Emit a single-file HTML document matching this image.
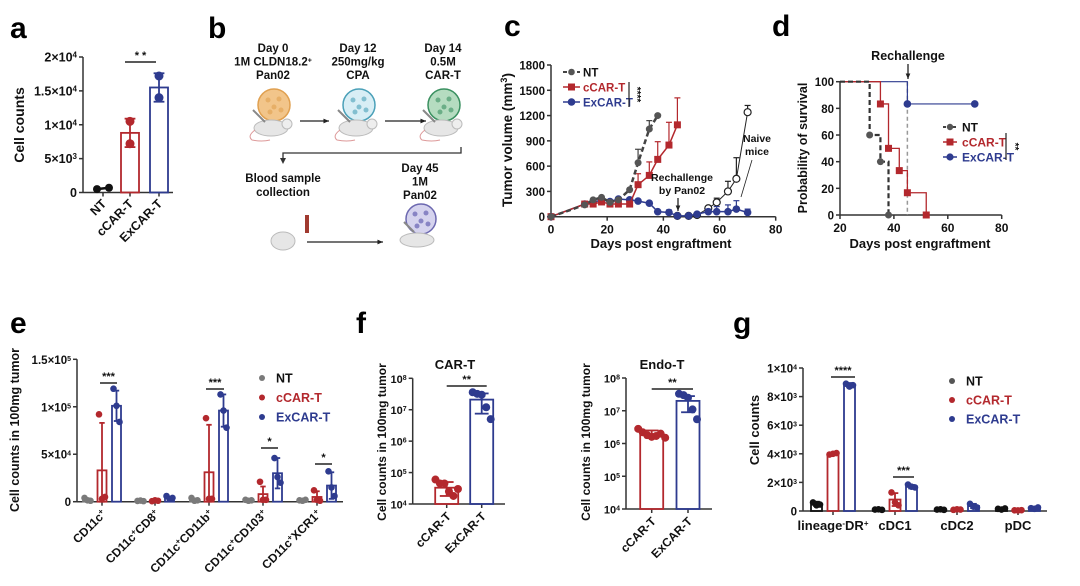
<!DOCTYPE html>
<html><head><meta charset="utf-8">
<style>
html,body{margin:0;padding:0;background:#fff;}
svg{display:block;font-family:"Liberation Sans",Arial,sans-serif;font-weight:bold;}
</style></head>
<body>
<svg id="fig" width="1080" height="586" viewBox="0 0 1080 586" xmlns="http://www.w3.org/2000/svg"></svg>
<script>
// ---------- DATA ----------
// panel a
const aCats=['NT','cCAR-T','ExCAR-T'];
const aMeans=[600,8800,15500];
const aSD=[150,2100,2100];
const aPts=[[500,700],[10500,7200],[17200,14000]];
const aTicks=[0,5000,10000,15000,20000];
const aTickLabels=['0','5×10^3','1×10^4','1.5×10^4','2×10^4'];
// panel c
const cNTdays=[0,12,15,18,21,24,28,31,35,38];
const cNTvals=[0,140,200,230,170,200,320,640,1040,1200];
const cNTerr=[0,20,30,30,30,30,60,800,1140,1210];
const cCdays=[0,12,15,18,21,24,28,31,35,38,42,45];
const cCvals=[0,150,150,175,150,150,150,380,490,680,850,1090];
const cCerr=[0,160,170,200,170,170,170,510,650,890,1120,1410];
const cXdays=[0,12,15,18,21,24,28,31,35,38,42,45,49,52,56,59,63,66,70];
const cXvals=[0,150,170,200,180,210,200,185,160,60,50,10,10,30,60,60,60,90,50];
const cXerr=[0,160,180,210,190,220,210,195,170,70,80,30,30,50,90,120,140,190,90];
const cNVdays=[45,49,52,56,59,63,66,70];
const cNVvals=[10,10,20,100,170,300,450,1240];
const cNVerr=[10,10,30,120,220,420,700,1320];
const cXTicks=[0,20,40,60,80];
const cYTicks=[0,300,600,900,1200,1500,1800];
// panel d
const dNTt=[20,31,35,38]; const dNTs=[100,60,40,0];
const dCt=[20,35,38,42,45,52]; const dCs=[100,83.3,50,33.3,16.7,0];
const dXt=[20,45,70]; const dXs=[100,83.3,83.3];
const dXTicks=[20,40,60,80];
const dYTicks=[0,20,40,60,80,100];
// panel e
const eCats=['CD11c^+','CD11c^+CD8^+','CD11c^+CD11b^+','CD11c^+CD103^+','CD11c^+XCR1^+'];
const eNT=[2000,1000,2000,1500,1500];
const eC=[33000,1000,31000,8000,5000];
const eX=[101000,4000,96000,30000,17000];
const eNTsd=[1500,300,1500,800,600];
const eCsd=[50000,500,50000,8000,6000];
const eXsd=[16000,1500,17000,16000,14000];
const eNTpts=[[4000,1500,1000],[800,1200,600],[4000,1000,1500],[2000,1000,1500],[1500,1000,2000]];
const eCpts=[[92000,3000,5000],[500,1500,1000],[88000,3000,3000],[21000,2000,2000],[12000,2000,1000]];
const eXpts=[[119000,101000,84000],[6000,3000,4000],[113000,96000,78000],[46000,26000,20000],[32000,15000,6000]];
const eTicks=[0,50000,100000,150000];
const eTickLabels=['0','5×10^4','1×10^5','1.5×10^5'];
// panel f
const fCats=['cCAR-T','ExCAR-T'];
const fCarMeans=[3.3e4,2.1e7];
const fCarLo=[1.8e4,7.5e6]; const fCarHi=[5e4,3.3e7];
const fCarPts=[[6e4,4.5e4,4.5e4,2.5e4,1.8e4,3e4],[3.6e7,3.2e7,3e7,1.2e7,5e6]];
const fEndoMeans=[1.9e6,2e7];
const fEndoLo=[1.5e6,9e6]; const fEndoHi=[2.5e6,2.8e7];
const fEndoPts=[[2.8e6,2.2e6,1.8e6,1.6e6,1.7e6,2e6,1.5e6],[3.3e7,3e7,2.5e7,1.1e7,5.5e6]];
const fTicks=[4,5,6,7,8];
// panel g
const gCats=['lineage^-DR^+','cDC1','cDC2','pDC'];
const gNT=[500,100,100,150];
const gC=[4000,800,100,50];
const gX=[8800,1700,350,200];
const gNTsd=[150,40,40,40];
const gCsd=[60,450,40,30];
const gXsd=[150,120,150,60];
const gNTpts=[[600,400,450],[100,120,80],[100,120,80],[150,100,180]];
const gCpts=[[3950,4000,4050],[1300,600,400],[80,120,100],[50,40,60]];
const gXpts=[[8900,8700,8800],[1850,1700,1650],[500,300,250],[200,150,250]];
const gTicks=[0,2000,4000,6000,8000,10000];
const gTickLabels=['0','2×10^3','4×10^3','6×10^3','8×10^3','1×10^4'];

const RED='#b3282d', BLUE='#2e3b8f', GRAY='#7a7a7a', DARK='#333';
// ---------- HELPERS ----------
const NS='http://www.w3.org/2000/svg';
const svg=document.getElementById('fig');
function el(tag,attrs,name,parent){
  const e=document.createElementNS(NS,tag);
  for(const k in attrs) e.setAttribute(k,attrs[k]);
  
  
  (parent||svg).appendChild(e);
  return e;
}
function txt(x,y,s,size,name,opt){
  opt=opt||{};
  const a={x:x,y:y,'font-size':size,'text-anchor':opt.anchor||'middle',fill:opt.fill||'#111'};
  if(opt.transform) a.transform=opt.transform;
  const t=el('text',a,name,opt.parent);
  for(let i=0;i<s.length;i++){
    if(s[i]==='^'&&i+1<s.length){
      const sp=document.createElementNS(NS,'tspan');
      sp.setAttribute('baseline-shift','super');
      sp.setAttribute('font-size',Math.round(size*0.65));
      sp.textContent=s[i+1];
      t.appendChild(sp); i++;
    } else {
      const sp=document.createElementNS(NS,'tspan');
      sp.textContent=s[i];
      t.appendChild(sp);
    }
  }
  return t;
}
function line(x1,y1,x2,y2,stroke,w,name,extra){
  const a={x1:x1,y1:y1,x2:x2,y2:y2,stroke:stroke,'stroke-width':w};
  if(extra) for(const k in extra) a[k]=extra[k];
  return el('line',a,name);
}
function arrow(x1,y1,x2,y2,name){
  line(x1,y1,x2,y2,'#222',1.3,name);
  const ang=Math.atan2(y2-y1,x2-x1), L=6;
  const p=[[x2,y2],[x2-L*Math.cos(ang-0.4),y2-L*Math.sin(ang-0.4)],[x2-L*Math.cos(ang+0.4),y2-L*Math.sin(ang+0.4)]];
  el('polygon',{points:p.map(q=>q.join(',')).join(' '),fill:'#222'},name+'-head');
}
function yAxis(x,yTop,yBot,ticks,scale,labels,size,name){
  line(x,yTop,x,yBot,'#333',1.5,name+'-line');
  ticks.forEach((v,i)=>{
    const y=scale(v);
    line(x-4,y,x,y,'#333',1.5,name+'-tick');
    txt(x-6,y+4.5,labels[i],size,name+'-label',{anchor:'end'});
  });
}
function barGroup(cx,mean,lo,hi,pts,color,bw,r,ys,name,jit){
  const y0=ys.base, ym=ys(mean);
  el('rect',{x:cx-bw/2,y:Math.min(ym,y0),width:bw,height:Math.abs(y0-ym),fill:'none',stroke:color,'stroke-width':1.8},name+'-bar');
  const yl=ys(lo), yh=ys(hi);
  line(cx,yh,cx,yl,color,1.8,name+'-errorbar');
  line(cx-bw*0.3,yh,cx+bw*0.3,yh,color,1.8,name+'-errorcap');
  line(cx-bw*0.3,yl,cx+bw*0.3,yl,color,1.8,name+'-errorcap');
  pts.forEach((v,i)=>{
    const dx=(i-(pts.length-1)/2)*jit;
    el('circle',{cx:cx+dx,cy:ys(v),r:r,fill:color},name+'-point');
  });
}
function sig(x1,x2,y,stars,name){
  line(x1,y,x2,y,'#222',1.5,name+'-bar');
  txt((x1+x2)/2,y-3,stars,11,name+'-stars');
}
function letter(x,y,s){ txt(x,y,s,30,'panel-label-'+s,{anchor:'start',fill:'#000'}); }

// ---------- PANEL a ----------
letter(10,38,'a');
(function(){
  const X0=83, Y0=192.5, Y1=57;
  const ys=v=>Y0-v/20000*(Y0-Y1); ys.base=Y0;
  const xc=[103,130,159];
  yAxis(X0,Y1,Y0,aTicks,ys,aTickLabels,12.5,'a-y-axis');
  line(X0,Y0,173,Y0,'#333',1.5,'a-x-axis');
  const cols=['#111',RED,BLUE];
  aCats.forEach((c,i)=>{
    line(xc[i],Y0,xc[i],Y0+4,'#333',1.5,'a-x-tick');
    txt(xc[i]+4,Y0+12,c,12.5,'a-x-label',{anchor:'end',transform:`rotate(-45 ${xc[i]+4} ${Y0+12})`});
    if(i===0){
      line(xc[i]-6,ys(aPts[0][0]),xc[i]+6,ys(aPts[0][1]),'#111',2.5,'a-nt-line');
      aPts[0].forEach((v,j)=>el('circle',{cx:xc[i]-6+12*j,cy:ys(v),r:4,fill:'#111'},'a-nt-point'));
    } else barGroup(xc[i],aMeans[i],aMeans[i]-aSD[i],aMeans[i]+aSD[i],aPts[i],cols[i],18,4.5,ys,'a-'+c,0.01);
  });
  sig(125,156,62,'* *','a-sig');
  txt(24,125,'Cell counts',14,'a-y-title',{transform:'rotate(-90 24 125)'});
})();

// ---------- PANEL b ----------
letter(208,38,'b');
(function(){
  const step=[[273,['Day 0','1M CLDN18.2^+','Pan02'],'#f2c58a','#e0a050'],[358,['Day 12','250mg/kg','CPA'],'#d8eef5','#4aa0b8'],[443,['Day 14','0.5M','CAR-T'],'#b5dcc0','#3a9060']];
  step.forEach((s,i)=>{
    s[1].forEach((t,j)=>txt(s[0],52+j*13.5,t,11.5,'b-step-text'));
    el('circle',{cx:s[0]+1,cy:105,r:16,fill:s[2],stroke:s[3],'stroke-width':1.5},'b-cell-dish');
    for(let k=0;k<5;k++) el('circle',{cx:s[0]+1+[-6,5,0,-4,7][k],cy:105+[-5,-6,2,7,5][k],r:2.5,fill:s[3],opacity:0.6},'b-cell');
    el('ellipse',{cx:s[0]-2,cy:128,rx:17,ry:8,fill:'#e6e6e6',stroke:'#bbb','stroke-width':1},'b-mouse');
    el('circle',{cx:s[0]+14,cy:124,r:5,fill:'#eee',stroke:'#bbb'},'b-mouse-head');
    el('path',{d:`M${s[0]-18} 130 q-8 6 -3 10 q10 2 18 0`,fill:'none',stroke:'#d99','stroke-width':1},'b-mouse-tail');
    line(s[0]-20,110,s[0]-8,122,'#888',2,'b-syringe');
  });
  arrow(300,121,329,121,'b-arrow-1');
  arrow(385,121,426,121,'b-arrow-2');
  el('polyline',{points:'461,147 461,153 283,153 283,160',fill:'none',stroke:'#333','stroke-width':1.3},'b-connector');
  el('polygon',{points:'283,164 280,158 286,158',fill:'#333'},'b-connector-head');
  txt(283,182,'Blood sample',11.5,'b-blood-text');
  txt(283,196,'collection',11.5,'b-blood-text');
  ['Day 45','1M','Pan02'].forEach((t,j)=>txt(420,172+j*13.5,t,11.5,'b-rechallenge-text'));
  el('circle',{cx:421,cy:219,r:15,fill:'#d5d3ee',stroke:'#6c68b0','stroke-width':1.5},'b-pan02-dish');
  for(let k=0;k<5;k++) el('circle',{cx:421+[-6,5,0,-4,7][k],cy:219+[-5,-6,2,7,5][k],r:2.5,fill:'#8884c4'},'b-pan02-cell');
  el('ellipse',{cx:283,cy:241,rx:12,ry:9,fill:'#e6e6e6',stroke:'#bbb'},'b-mouse-blood');
  el('rect',{x:305,y:215,width:4,height:18,fill:'#a03a30'},'b-blood-tube');
  el('ellipse',{cx:417,cy:240,rx:17,ry:7,fill:'#e6e6e6',stroke:'#bbb'},'b-mouse-4');
  line(404,222,414,232,'#888',2,'b-syringe');
  arrow(307,242,383,242,'b-arrow-3');
})();

// ---------- PANEL c ----------
letter(504,36,'c');
(function(){
  const X0=551, X1=775.7, Y0=216.7, Y1=65;
  const xs=d=>X0+d/80*(X1-X0), ys=v=>Y0-v/1800*(Y0-Y1);
  yAxis(X0,Y1,Y0,cYTicks,ys,cYTicks.map(String),11.5,'c-y-axis');
  line(X0,Y0,X1,Y0,'#333',1.5,'c-x-axis');
  cXTicks.forEach(d=>{line(xs(d),Y0,xs(d),Y0+4,'#333',1.5,'c-x-tick');txt(xs(d),Y0+17,String(d),12,'c-x-label');});
  txt(661,248,'Days post engraftment',13,'c-x-title');
  txt(512,140,'Tumor volume (mm^3)',13.5,'c-y-title',{transform:'rotate(-90 512 140)'});
  function series(days,vals,err,color,dash,w,marker,name){
    days.forEach((d,i)=>{ if(err[i]>vals[i]){line(xs(d),ys(vals[i]),xs(d),ys(err[i]),color,1.2,name+'-err');line(xs(d)-3,ys(err[i]),xs(d)+3,ys(err[i]),color,1.2,name+'-errcap');}});
    const a={points:days.map((d,i)=>xs(d)+','+ys(vals[i])).join(' '),fill:'none',stroke:color,'stroke-width':w};
    if(dash) a['stroke-dasharray']=dash;
    el('polyline',a,name+'-line');
    days.forEach((d,i)=>marker(xs(d),ys(vals[i]),name+'-marker'));
  }
  series(cNVdays,cNVvals,cNVerr,'#222',null,1,(x,y,n)=>el('circle',{cx:x,cy:y,r:3.5,fill:'#fff',stroke:'#222','stroke-width':1.2},n),'c-naive');
  series(cXdays,cXvals,cXerr,BLUE,null,1.5,(x,y,n)=>el('circle',{cx:x,cy:y,r:3.8,fill:BLUE},n),'c-excart');
  series(cCdays,cCvals,cCerr,RED,null,1.5,(x,y,n)=>el('rect',{x:x-3.5,y:y-3.5,width:7,height:7,fill:RED},n),'c-ccart');
  series(cNTdays,cNTvals,cNTerr,'#444','5,3',2.5,(x,y,n)=>el('circle',{cx:x,cy:y,r:3.5,fill:'#555'},n),'c-nt');
  // legend
  line(563,72,580,72,'#444',2,'c-legend-nt-line',{'stroke-dasharray':'4,3'});
  el('circle',{cx:571.5,cy:72,r:3.3,fill:'#555'},'c-legend-nt-marker');
  txt(583,76.5,'NT',11.5,'c-legend-nt',{anchor:'start'});
  line(563,87,580,87,RED,1.5,'c-legend-ccart-line');
  el('rect',{x:568,y:83.5,width:7,height:7,fill:RED},'c-legend-ccart-marker');
  txt(583,91.5,'cCAR-T',11.5,'c-legend-ccart',{anchor:'start',fill:RED});
  line(563,102,580,102,BLUE,1.5,'c-legend-excart-line');
  el('circle',{cx:571.5,cy:102,r:3.8,fill:BLUE},'c-legend-excart-marker');
  txt(583,106.5,'ExCAR-T',11.5,'c-legend-excart',{anchor:'start',fill:BLUE});
  line(629,82,629,107,'#222',1.2,'c-sig-bracket');
  txt(634,94.5,'****',10,'c-sig-stars',{transform:'rotate(90 634 94.5)'});
  txt(682,181,'Rechallenge',10.5,'c-rechallenge-label');
  txt(682,194,'by Pan02',10.5,'c-rechallenge-label');
  arrow(678,198,678,211,'c-rechallenge-arrow');
  txt(757,142,'Naive',10.5,'c-naive-label');
  txt(757,155,'mice',10.5,'c-naive-label');
  line(752,160,741,197,'#222',0.8,'c-naive-pointer');
})();

// ---------- PANEL d ----------
letter(772,36,'d');
(function(){
  const X0=840, X1=1001.7, Y0=215, Y1=81.7;
  const xs=d=>X0+(d-20)/60*(X1-X0), ys=p=>Y0-p/100*(Y0-Y1);
  yAxis(X0,Y1,Y0,dYTicks,ys,dYTicks.map(String),11.5,'d-y-axis');
  line(X0,Y0,X1,Y0,'#333',1.5,'d-x-axis');
  dXTicks.forEach(d=>{line(xs(d),Y0,xs(d),Y0+4,'#333',1.5,'d-x-tick');txt(xs(d),Y0+17,String(d),12,'d-x-label');});
  txt(920,248,'Days post engraftment',13,'d-x-title');
  txt(807,148,'Probability of survival',12.5,'d-y-title',{transform:'rotate(-90 807 148)'});
  line(xs(45),Y1,xs(45),Y0,'#999',1.5,'d-rechallenge-line',{'stroke-dasharray':'4,3'});
  txt(908,60,'Rechallenge',12.5,'d-rechallenge-label');
  arrow(908,64,908,79,'d-rechallenge-arrow');
  function step(t,s,color,w,dash,name){
    let d='M'+xs(t[0])+' '+ys(s[0]);
    for(let i=1;i<t.length;i++) d+=' H'+xs(t[i])+' V'+ys(s[i]);
    const a={d:d,fill:'none',stroke:color,'stroke-width':w};
    if(dash) a['stroke-dasharray']=dash;
    el('path',a,name+'-curve');
  }
  step(dXt,dXs,BLUE,1.2,null,'d-excart');
  step(dCt,dCs,RED,1.3,null,'d-ccart');
  step(dNTt,dNTs,'#333',2.2,'5,3','d-nt');
  for(let i=1;i<dXt.length;i++) el('circle',{cx:xs(dXt[i]),cy:ys(dXs[i]),r:3.8,fill:BLUE},'d-excart-marker');
  for(let i=1;i<dCt.length;i++) el('rect',{x:xs(dCt[i])-3.5,y:ys(dCs[i])-3.5,width:7,height:7,fill:RED},'d-ccart-marker');
  for(let i=1;i<dNTt.length;i++) el('circle',{cx:xs(dNTt[i]),cy:ys(dNTs[i]),r:3.5,fill:'#555'},'d-nt-marker');
  line(943,127,957,127,'#444',2,'d-legend-nt-line',{'stroke-dasharray':'3,2'});
  el('circle',{cx:950,cy:127,r:3.2,fill:'#555'},'d-legend-nt-marker');
  txt(962,131.5,'NT',12,'d-legend-nt',{anchor:'start'});
  line(943,142,957,142,RED,1.5,'d-legend-ccart-line');
  el('rect',{x:946.5,y:138.5,width:7,height:7,fill:RED},'d-legend-ccart-marker');
  txt(962,146.5,'cCAR-T',12,'d-legend-ccart',{anchor:'start',fill:RED});
  line(943,157,957,157,BLUE,1.5,'d-legend-excart-line');
  el('circle',{cx:950,cy:157,r:3.6,fill:BLUE},'d-legend-excart-marker');
  txt(962,161.5,'ExCAR-T',12,'d-legend-excart',{anchor:'start',fill:BLUE});
  line(1006,133,1006,160,'#222',1.2,'d-sig-bracket');
  txt(1012,146.5,'**',10,'d-sig-stars',{transform:'rotate(90 1012 146.5)'});
})();

// ---------- PANEL e ----------
letter(10,333,'e');
(function(){
  const X0=77, X1=343, Y0=501.7, Y1=359.3;
  const ys=v=>Y0-v/150000*(Y0-Y1); ys.base=Y0;
  yAxis(X0,Y1,Y0,eTicks,ys,eTickLabels,11.5,'e-y-axis');
  line(X0,Y0,X1,Y0,'#333',1.5,'e-x-axis');
  const gc=[102,155,209,263,317], off=14.5;
  eCats.forEach((c,i)=>{
    const cx=gc[i];
    line(cx,Y0,cx,Y0+4,'#333',1.5,'e-x-tick');
    txt(cx+5,Y0+13,c,12,'e-x-label',{anchor:'end',transform:`rotate(-45 ${cx+5} ${Y0+13})`});
    barGroup(cx-off,eNT[i],Math.max(0,eNT[i]-eNTsd[i]),eNT[i]+eNTsd[i],eNTpts[i],GRAY,9,3.3,ys,'e-nt',3);
    barGroup(cx,eC[i],Math.max(0,eC[i]-eCsd[i]),eC[i]+eCsd[i],eCpts[i],RED,9,3.3,ys,'e-ccart',3);
    barGroup(cx+off,eX[i],Math.max(0,eX[i]-eXsd[i]),eX[i]+eXsd[i],eXpts[i],BLUE,9,3.3,ys,'e-excart',3);
  });
  sig(100,117,383,'***','e-sig-1');
  sig(206,224,389,'***','e-sig-3');
  sig(261,278,448,'*','e-sig-4');
  sig(315,332,464,'*','e-sig-5');
  [['NT','#111',GRAY],['cCAR-T',RED,RED],['ExCAR-T',BLUE,BLUE]].forEach((l,i)=>{
    el('circle',{cx:262,cy:378+i*19.5,r:3,fill:l[2]},'e-legend-marker');
    txt(276,382.5+i*19.5,l[0],12.5,'e-legend-label',{anchor:'start',fill:l[1]});
  });
  txt(19,430,'Cell counts in 100mg tumor',12.5,'e-y-title',{transform:'rotate(-90 19 430)'});
})();

// ---------- PANEL f ----------
letter(356,333,'f');
function logPanel(X0,X1,Y1,Y0,xc,means,lo,hi,pts,title,titleX,sigY,yTitleX,name){
  const ys=v=>Y0-(Math.log10(v)-4)/4*(Y0-Y1); ys.base=Y0;
  yAxis(X0,Y1,Y0,fTicks.map(e=>Math.pow(10,e)),ys,fTicks.map(e=>'10^'+e),11,name+'-y-axis');
  line(X0,Y0,X1,Y0,'#333',1.5,name+'-x-axis');
  const cols=[RED,BLUE];
  fCats.forEach((c,i)=>{
    line(xc[i],Y0,xc[i],Y0+4,'#333',1.5,name+'-x-tick');
    txt(xc[i]+5,Y0+13,c,12,name+'-x-label',{anchor:'end',transform:`rotate(-45 ${xc[i]+5} ${Y0+13})`});
    barGroup(xc[i],means[i],lo[i],hi[i],pts[i],cols[i],23,4,ys,name+'-'+c,4.5);
  });
  txt(titleX,369,title,13,name+'-title');
  sig(xc[0],xc[1]+5,sigY,'**',name+'-sig');
  txt(yTitleX,442,'Cell counts in 100mg tumor',12,name+'-y-title',{transform:`rotate(-90 ${yTitleX} 442)`});
}
logPanel(412.7,505,378.3,504,[446.7,481.7],fCarMeans,fCarLo,fCarHi,fCarPts,'CAR-T',455,386,386,'f-cart');
logPanel(626,712,378,509,[651.7,688],fEndoMeans,fEndoLo,fEndoHi,fEndoPts,'Endo-T',662,389,590,'f-endot');

// ---------- PANEL g ----------
letter(733,333,'g');
(function(){
  const X0=803, X1=1047, Y0=511, Y1=368;
  const ys=v=>Y0-v/10000*(Y0-Y1); ys.base=Y0;
  yAxis(X0,Y1,Y0,gTicks,ys,gTickLabels,11.5,'g-y-axis');
  line(X0,Y0,X1,Y0,'#333',1.5,'g-x-axis');
  const gc=[833,895,957,1018], off=16.5;
  gCats.forEach((c,i)=>{
    const cx=gc[i];
    line(cx,Y0,cx,Y0+4,'#333',1.5,'g-x-tick');
    txt(cx,Y0+19,c,13,'g-x-label');
    barGroup(cx-off,gNT[i],Math.max(0,gNT[i]-gNTsd[i]),gNT[i]+gNTsd[i],gNTpts[i],'#111',11,3.3,ys,'g-nt',3.5);
    barGroup(cx,gC[i],Math.max(0,gC[i]-gCsd[i]),gC[i]+gCsd[i],gCpts[i],RED,11,3.3,ys,'g-ccart',3.5);
    barGroup(cx+off,gX[i],Math.max(0,gX[i]-gXsd[i]),gX[i]+gXsd[i],gXpts[i],BLUE,11,3.3,ys,'g-excart',3.5);
  });
  sig(831,855,377,'****','g-sig-1');
  sig(893,914,477,'***','g-sig-2');
  [['NT','#111','#555'],['cCAR-T',RED,RED],['ExCAR-T',BLUE,BLUE]].forEach((l,i)=>{
    el('circle',{cx:952,cy:381+i*19,r:3,fill:l[2]},'g-legend-marker');
    txt(966,385.5+i*19,l[0],12.5,'g-legend-label',{anchor:'start',fill:l[1]});
  });
  txt(759,430,'Cell counts',13,'g-y-title',{transform:'rotate(-90 759 430)'});
})();
</script>
</body></html>
